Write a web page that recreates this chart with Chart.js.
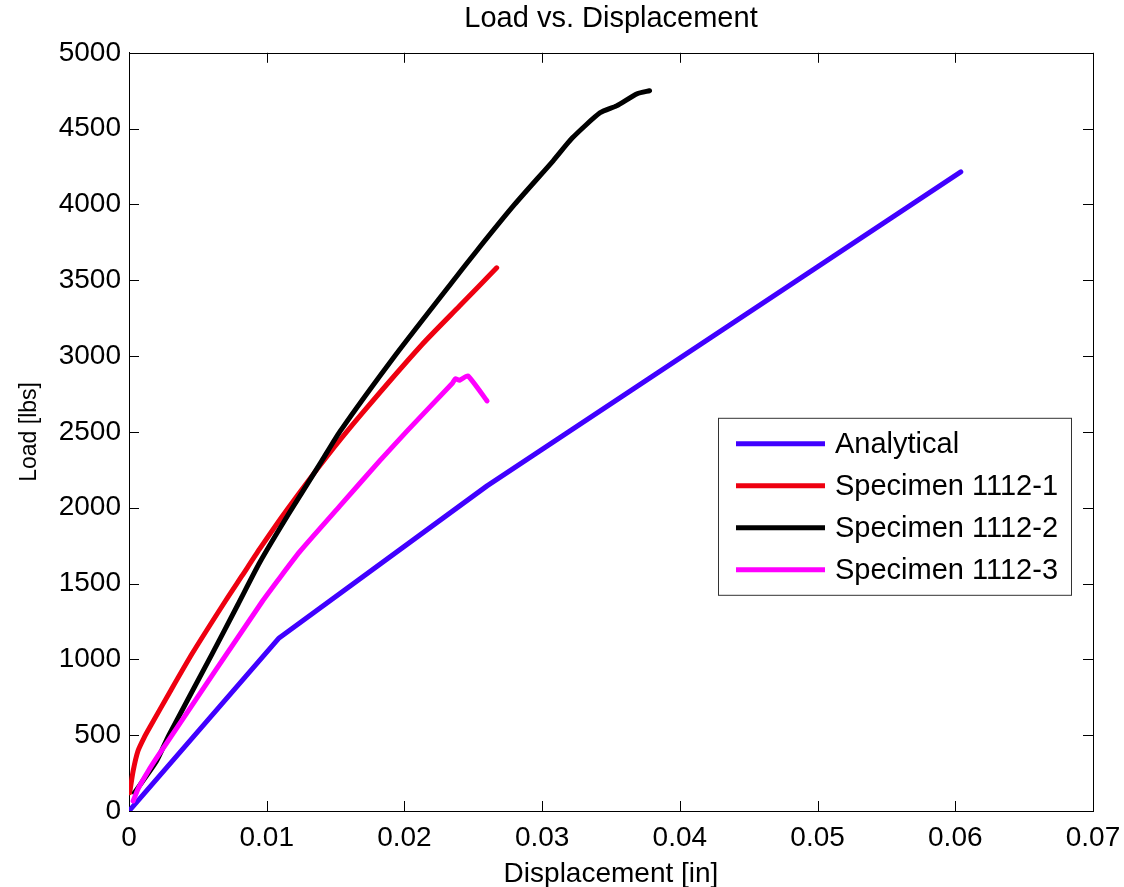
<!DOCTYPE html>
<html>
<head>
<meta charset="utf-8">
<title>Load vs. Displacement</title>
<script src="https://cdn.jsdelivr.net/npm/chart.js@4/dist/chart.umd.min.js"></script>
<style>
	html, body { margin: 0; padding: 0; background: #fff; }
	#wrap { width: 1124px; height: 887px; position: relative; }
</style>
</head>
<body>
<div id="wrap"><canvas id="load-chart"></canvas></div>
<script>
// displacement [in] / load [lbs] pairs for each curve
const analyticalX = [0, 0.0109, 0.026, 0.0604];
const analyticalY = [0, 1141, 2144, 4215];

const spec1X = [0.00005, 0.0003, 0.00065, 0.0011, 0.0015, 0.003, 0.0046, 0.007, 0.0082, 0.0095, 0.0115, 0.0143, 0.017, 0.0213, 0.024, 0.0267];
const spec1Y = [120, 264, 396, 484, 550, 790, 1040, 1385, 1550, 1730, 1990, 2330, 2630, 3078, 3330, 3582];

const spec2X = [0.0004, 0.001, 0.002, 0.0029, 0.006, 0.0079, 0.0095, 0.0116, 0.014, 0.0153, 0.0193, 0.0234, 0.0253, 0.028, 0.0308, 0.0322, 0.0342, 0.0354, 0.0369, 0.0378];
const spec2Y = [120, 198, 330, 500, 1030, 1360, 1640, 1960, 2309, 2500, 3000, 3480, 3700, 4000, 4288, 4439, 4604, 4650, 4730, 4750];

const spec3X = [0.0003, 0.00065, 0.0014, 0.0021, 0.003, 0.0097, 0.0124, 0.0153, 0.0182, 0.0202, 0.0235, 0.0237, 0.024, 0.0246, 0.026];
const spec3Y = [66, 145, 264, 363, 484, 1385, 1710, 2010, 2309, 2507, 2823, 2850, 2840, 2870, 2704];

const seriesLabels = ["Analytical", "Specimen 1112-1", "Specimen 1112-2", "Specimen 1112-3"];
const seriesColors = ["#4000ff", "#ee0010", "#000000", "#ff00ff"];

const xTicks = [0, 0.01, 0.02, 0.03, 0.04, 0.05, 0.06, 0.07];
const yTicks = [0, 500, 1000, 1500, 2000, 2500, 3000, 3500, 4000, 4500, 5000];

const FONT = "'Liberation Sans', Arial, sans-serif";

const toPoints = (xs, ys) => xs.map((x, i) => ({ x, y: ys[i] }));

// MATLAB style box with ticks pointing into the plot on all four sides
const frameTicks = {
	id: "frameTicks",
	beforeDatasetsDraw(chart) {
		const { ctx, chartArea: a, scales } = chart;
		const len = 10;
		ctx.save();
		ctx.strokeStyle = "#000";
		ctx.lineWidth = 1;
		ctx.beginPath();
		xTicks.forEach((v) => {
			const px = Math.round(scales.x.getPixelForValue(v)) + 0.5;
			ctx.moveTo(px, a.bottom);
			ctx.lineTo(px, a.bottom - len);
			ctx.moveTo(px, a.top);
			ctx.lineTo(px, a.top + len);
		});
		yTicks.forEach((v) => {
			const py = Math.round(scales.y.getPixelForValue(v)) + 0.5;
			ctx.moveTo(a.left, py);
			ctx.lineTo(a.left + len, py);
			ctx.moveTo(a.right, py);
			ctx.lineTo(a.right - len, py);
		});
		ctx.stroke();
		ctx.strokeRect(Math.round(a.left) + 0.5, Math.round(a.top) + 0.5,
			Math.round(a.right - a.left), Math.round(a.bottom - a.top));
		ctx.restore();
	},
};

// legend box sitting inside the plot, right side
const boxLegend = {
	id: "boxLegend",
	afterDraw(chart) {
		const { ctx, chartArea: a } = chart;
		const w = 353;
		const h = 177;
		const left = a.right - 22 - w;
		const top = a.top + 365;
		ctx.save();
		ctx.fillStyle = "#fff";
		ctx.fillRect(left, top, w, h);
		ctx.strokeStyle = "#333";
		ctx.lineWidth = 1;
		ctx.strokeRect(left + 0.5, top + 0.5, w, h);
		ctx.font = "29px " + FONT;
		ctx.textBaseline = "middle";
		ctx.fillStyle = "#000";
		chart.data.datasets.forEach((ds, i) => {
			const y = top + 26 + i * 42;
			ctx.strokeStyle = ds.borderColor;
			ctx.lineWidth = 5;
			ctx.beginPath();
			ctx.moveTo(left + 18, y);
			ctx.lineTo(left + 107, y);
			ctx.stroke();
			ctx.fillText(ds.label, left + 117, y + 1);
		});
		ctx.restore();
	},
};

const makeDataset = (i, xs, ys, tension) => ({
	label: seriesLabels[i],
	data: toPoints(xs, ys),
	borderColor: seriesColors[i],
	backgroundColor: seriesColors[i],
	borderWidth: 5,
	borderCapStyle: "round",
	borderJoinStyle: "round",
	pointRadius: 0,
	showLine: true,
	tension,
	order: 4 - i,
});

Chart.defaults.color = "#000";
Chart.defaults.font.family = FONT;

new Chart(document.getElementById("load-chart"), {
	type: "scatter",
	data: {
		datasets: [
			makeDataset(0, analyticalX, analyticalY, 0),
			makeDataset(1, spec1X, spec1Y, 0.2),
			makeDataset(2, spec2X, spec2Y, 0.2),
			makeDataset(3, spec3X, spec3Y, 0.15),
		],
	},
	options: {
		responsive: true,
		maintainAspectRatio: false,
		animation: false,
		layout: { padding: { left: 0, right: 31, top: 0, bottom: 0 } },
		plugins: {
			legend: { display: false },
			tooltip: { enabled: false },
			title: {
				display: true,
				fullSize: false,
				text: "Load vs. Displacement",
				color: "#000",
				font: { size: 29, weight: "normal" },
				padding: { top: 2, bottom: 16 },
			},
		},
		scales: {
			x: {
				type: "linear",
				min: 0,
				max: 0.07,
				afterFit: (scale) => {
					scale.height = 76;
					scale.paddingLeft = 0;
					scale.paddingRight = 0;
				},
				afterBuildTicks: (scale) => { scale.ticks = xTicks.map((value) => ({ value })); },
				grid: { display: false, drawTicks: false, tickLength: 0 },
				border: { display: true, color: "#000", width: 1 },
				ticks: {
					font: { size: 28 },
					padding: 10,
					maxRotation: 0,
					callback: (v) => String(Number(v.toFixed(2))),
				},
				title: {
					display: true,
					text: "Displacement [in]",
					font: { size: 28 },
					padding: { top: 0, bottom: -4 },
				},
			},
			y: {
				type: "linear",
				min: 0,
				max: 5000,
				afterFit: (scale) => { scale.width = 129; },
				afterBuildTicks: (scale) => { scale.ticks = yTicks.map((value) => ({ value })); },
				grid: { display: false, drawTicks: false, tickLength: 0 },
				border: { display: true, color: "#000", width: 1 },
				ticks: {
					font: { size: 28 },
					padding: 8,
					callback: (v) => String(v),
				},
				title: {
					display: true,
					text: "Load [lbs]",
					font: { size: 23 },
					padding: { top: 16, bottom: 0 },
				},
			},
		},
	},
	plugins: [frameTicks, boxLegend],
});
</script>
</body>
</html>
